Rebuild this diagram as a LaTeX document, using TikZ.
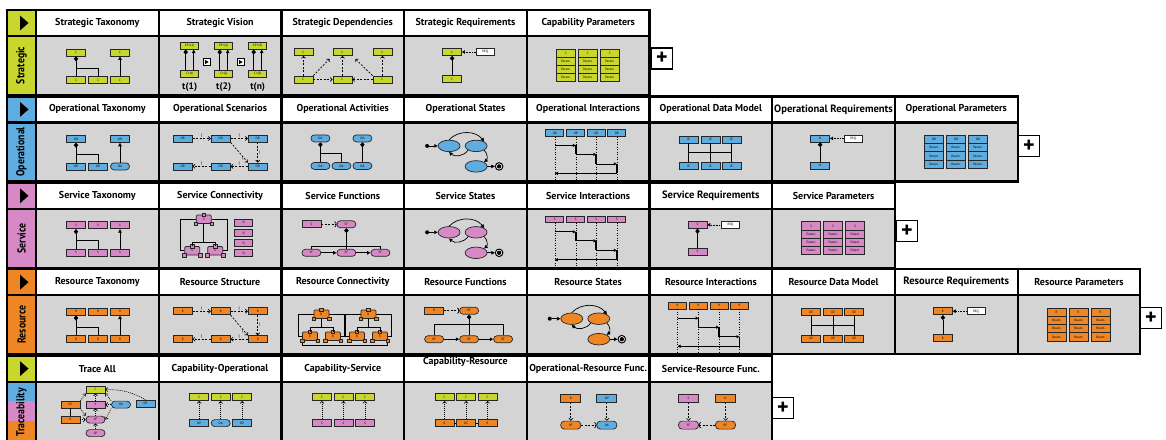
\documentclass[tikz,border=0pt]{standalone}
\usepackage{fontspec}
\setmainfont{PT Sans}
\newfontfamily\sidefamily[FakeStretch=0.85]{PT Sans}
\usetikzlibrary{arrows.meta,shapes.geometric,positioning}

\definecolor{stratcol}{RGB}{200,214,46}
\definecolor{opcol}{RGB}{94,172,224}
\definecolor{svccol}{RGB}{214,137,196}
\definecolor{rescol}{RGB}{239,134,38}
\definecolor{cellgray}{RGB}{212,212,212}

\newcommand{\hdrfont}{\bfseries\fontsize{10}{12}\selectfont}
\newcommand{\sidefont}{\sidefamily\bfseries\fontsize{11.5}{12}\selectfont}
\newcommand{\reqfont}{\fontsize{10.6}{12}\selectfont}
\newcommand{\tinyfont}{\fontsize{3.2}{3.6}\selectfont}

\tikzset{
  hdr/.style={draw, line width=2.2pt, fill=white, minimum width=122.7pt,
    minimum height=26pt, inner sep=0pt, font=\hdrfont},
  body/.style={draw, line width=2.2pt, fill=cellgray, minimum width=122.7pt,
    minimum height=59pt, inner sep=0pt},
  tab/.style={draw, line width=2.2pt, fill=#1, minimum width=29pt,
    minimum height=26pt, inner sep=0pt},
  side/.style={draw, line width=2.2pt, fill=#1, minimum width=29pt,
    minimum height=59pt, inner sep=0pt},
  el/.style={draw=black!85, line width=0.7pt, fill=#1, minimum width=19pt,
    minimum height=7pt, inner sep=0pt, font=\tinyfont},
  pill/.style={el=#1, rounded corners=3.5pt},
  stt/.style={ellipse, draw=black!85, line width=0.7pt, fill=#1,
    minimum width=22pt, minimum height=11.5pt, inner sep=0pt},
  port/.style={draw=black!85, line width=0.5pt, fill=#1, minimum size=3.5pt, inner sep=0pt},
  initdot/.style={circle, fill, minimum size=4pt, inner sep=0pt},
  final/.style={circle, draw, line width=1pt, fill=white, minimum size=7.5pt,
    inner sep=0pt, path picture={\fill[black] (path picture bounding box.center) circle (2.2pt);}},
  play/.style={draw, line width=0.6pt, fill=white, minimum size=7pt, inner sep=0pt,
    path picture={\fill[black] ([shift={(-1.5pt,-2pt)}]path picture bounding box.center)
      -- ++(0,4pt) -- ++(3.5pt,-2pt) -- cycle;}},
  plusbox/.style={draw, line width=1.8pt, fill=white, minimum size=21pt, inner sep=0pt,
    font=\bfseries\fontsize{22}{22}\selectfont},
  comp/.style={line width=0.7pt, -{Diamond[length=5pt,width=4.5pt]}},
  gen/.style={line width=0.7pt, -{Triangle[length=3.5pt,width=3.5pt]}},
  dep/.style={line width=0.7pt, dash pattern=on 2pt off 1.5pt,
    -{Straight Barb[length=2pt,width=4pt]}},
  trc/.style={line width=0.6pt, dash pattern=on 1pt off 1pt,
    -{Straight Barb[length=2pt,width=4pt]}},
  msg/.style={line width=0.8pt, -{Triangle[length=3pt,width=3pt]}},
  act/.style={line width=1.8pt},
  bang/.style={font=\fontsize{5}{5}\selectfont, inner sep=0.6pt},
}

% one row of views: index, colour, label, titles, extra side options
\newcommand{\viewrow}[5]{%
  \pgfmathsetmacro{\rowtop}{10+86.4*#1}
  \node[tab=#2] (tab#1) at (21.5,\rowtop+13) {};
  \fill ([shift={(-1.5pt,7.5pt)}]tab#1.center) -- ++(0,-15pt) -- ++(8.5pt,7.5pt) -- cycle;
  \node[side=#2, #5] (side#1) at (21.5,\rowtop+55.5) {};
  \node[rotate=90, font=\sidefont] (lbl#1) at (side#1) {#3};
  \foreach \ttl [count=\cc from 0] in {#4} {
    \node[hdr] (hd#1-\cc) at ({97.35+122.7*\cc},\rowtop+13) {\ttl};
    \node[body] (bd#1-\cc) at ({97.35+122.7*\cc},\rowtop+55.5) {};
  }
}

% taxonomy
\newcommand{\taxicon}[8]{%
  \begin{scope}[shift={({36+122.7*#3},{36+86.4*#2})}]
    \foreach \i in {#6} \node[el=#4] (#1t\i) at ({18+22*\i},16.5) {#5};
    \node[el=#4] (#1b1) at (40,44) {#5};
    \node[el=#4] (#1b2) at (62,44) {#5};
    \node[el=#4, rounded corners=#7] (#1b3) at (84,44) {#8};
    \draw[comp] (#1b1) -- (#1t1);
    \draw[line width=0.7pt] (#1b2.north) |- (#1t1.south |- 0,32);
    \draw[gen] (#1b3) -- (#1t3);
  \end{scope}}

% vision
\newcommand{\visionicon}[3]{%
  \begin{scope}[shift={({36+122.7*#3},{36+86.4*#2})}]
    \foreach \i/\t [count=\k from 0] in {1/1,2/2,3/n} {
      \node[el=stratcol, minimum width=18pt, minimum height=6.5pt] (#1e\i) at ({31+34*\k},10) {EP t(\i)};
      \node[el=stratcol, minimum width=18pt, minimum height=6.5pt] (#1c\i) at ({31+34*\k},38) {C t(\i)};
      \node[font=\bfseries\fontsize{9.5}{10}\selectfont] (#1l\i) at ({31+34*\k},51) {t(\t)};
      \draw[comp] ([xshift=-4pt]#1c\i.north) -- ([xshift=-4pt]#1e\i.south);
      \draw[gen] ([xshift=4pt]#1c\i.north) -- ([xshift=4pt]#1e\i.south);
    }
    \foreach \k in {1,2} \node[play] (#1p\k) at ({14+34*\k},26) {};
  \end{scope}}

% dependencies
\newcommand{\depicon}[3]{%
  \begin{scope}[shift={({36+122.7*#3},{36+86.4*#2})}]
    \foreach \i/\x in {1/22,2/61,3/101} {
      \node[el=stratcol] (#1t\i) at (\x,16) {C};
      \node[el=stratcol] (#1b\i) at (\x,43.5) {C};
      \draw[dep] (#1b\i) -- (#1t\i);
    }
    \draw[dep] (#1b1) -- (#1b2);
    \draw[dep] (#1b3) -- (#1b2);
    \draw[dep] (#1b1.north east) -- ([shift={(-3pt,-3pt)}]#1t2.south west);
    \draw[dep] (#1b3.north west) -- ([shift={(3pt,-3pt)}]#1t2.south east);
  \end{scope}}

% requirements
\newcommand{\reqicon}[5]{%
  \begin{scope}[shift={({36+122.7*#3},{36+86.4*#2})}]
    \node[el=#4] (#1t) at (48,16) {#5};
    \node[el=white, minimum width=18pt] (#1q) at (81,16) {REQ};
    \node[el=#4] (#1b) at (48,43) {#5};
    \draw[line width=0.6pt, densely dotted, -{Triangle[length=3pt,width=3.5pt]}] (#1q) -- (#1t);
    \draw[comp] (#1b) -- (#1t);
  \end{scope}}

% parameters
\newcommand{\paramicon}[5]{%
  \begin{scope}[shift={({36+122.7*#3},{36+86.4*#2})}]
    \foreach \i in {0,1,2} {
      \node[el=#4, minimum height=8.2pt] (#1h\i) at ({39+22*\i},17.1) {#5};
      \foreach \k in {1,2,3}
        \node[el=#4, minimum height=8.2pt] (#1p\i-\k) at ({39+22*\i},{17.1+8.2*\k}) {Param.};
    }
  \end{scope}}

% scenarios / structure
\newcommand{\scenicon}[5]{%
  \begin{scope}[shift={({36+122.7*#3},{36+86.4*#2})}]
    \foreach \i/\x in {1/24,2/62,3/99} {
      \node[el=#4] (#1t\i) at (\x,16) {#5};
      \node[el=#4] (#1b\i) at (\x,44) {#5};
    }
    \draw[dep] (#1t1) -- node[bang, above] {!} (#1t2);
    \draw[dep] (#1t2) -- node[bang, above] {!} (#1t3);
    \draw[dep] (#1t3) -- node[bang, right] {!} (#1b3);
    \draw[dep] (#1t2.south east) -- node[bang, pos=0.8, left] {!} (#1b3.north west);
    \draw[dep] (#1b3) -- node[bang, above] {!} (#1b2);
    \draw[dep] (#1b2) -- node[bang, above] {!} (#1b1);
  \end{scope}}

% activities
\newcommand{\acticon}[3]{%
  \begin{scope}[shift={({36+122.7*#3},{36+86.4*#2})}]
    \node[pill=opcol] (#1t1) at (39,16) {OA};
    \node[pill=opcol] (#1t3) at (81,16) {OA};
    \foreach \i/\x in {1/39,2/60,3/81} \node[pill=opcol] (#1b\i) at (\x,43.5) {OA};
    \draw[comp] (#1b1) -- (#1t1);
    \draw[line width=0.7pt] (#1b2.north) |- (#1t1.south |- 0,31);
    \draw[comp] (#1b3) -- (#1t3);
  \end{scope}}

% states
\newcommand{\stateicon}[4]{%
  \begin{scope}[shift={({36+122.7*#3},{36+86.4*#2})}]
    \node[initdot] (#1i) at (23,23.5) {};
    \node[stt=#4] (#1s1) at (45,23.5) {};
    \node[stt=#4] (#1s2) at (72,23.5) {};
    \node[stt=#4] (#1s3) at (72,44) {};
    \node[final] (#1f) at (95,44) {};
    \draw[gen] (#1i) -- (#1s1);
    \draw[gen] (#1s1.north) to[bend left=50] (#1s2.north east);
    \draw[gen] (#1s2.south west) to[bend left=50] (#1s1.south);
    \draw[gen] (#1s2.south east) to[bend left=50] (#1s3.north east);
    \draw[gen] (#1s3) -- (#1f);
  \end{scope}}

% interactions
\newcommand{\intericon}[5]{%
  \begin{scope}[shift={({36+122.7*#3},{36+86.4*#2})}]
    \foreach \i/\x in {1/28,2/49,3/69.5,4/90} {
      \node[el=#4, minimum width=18pt, minimum height=6.5pt] (#1o\i) at (\x,10.5) {#5};
      \coordinate (#1e\i) at (\x,57);
      \draw[line width=0.5pt, dotted] (#1o\i) -- (#1e\i);
    }
    \draw[msg] (#1o1 |- 0,23) -- (#1o2 |- 0,23);
    \draw[act] (#1o2 |- 0,23) -- (#1o2 |- 0,32);
    \draw[msg] (#1o2 |- 0,32) -- (#1o3 |- 0,32);
    \draw[act] (#1o3 |- 0,32) -- (#1o3 |- 0,41.5);
    \draw[msg] (#1o3 |- 0,41.5) -- (#1o4 |- 0,41.5);
    \draw[act] (#1o4 |- 0,41.5) -- (#1o4 |- 0,51);
    \draw[msg] (#1o4 |- 0,51) -- (#1o1 |- 0,51);
  \end{scope}}

% data model
\newcommand{\dataicon}[6]{%
  \begin{scope}[shift={({36+122.7*#3},{36+86.4*#2})}]
    \foreach \i/\x in {1/39,2/61,3/82} {
      \node[el=#4] (#1t\i) at (\x,17) {#5};
      \node[el=#4] (#1b\i) at (\x,43.5) {#5};
      \draw[line width=0.7pt] (#1t\i) -- (#1b\i);
    }
    \draw[line width=0.7pt] (#1t1 |- 0,#6) -- (#1t3 |- 0,#6);
  \end{scope}}

% functions
\newcommand{\funcicon}[7]{%
  \begin{scope}[shift={({36+122.7*#3},{36+86.4*#2})}]
    \node[el=#4] (#1a) at (30,15.5) {#5};
    \node[pill=#4] (#1f0) at (65,15.5) {#6};
    \foreach \i/\x in {1/30,2/65,3/99} \node[pill=#4] (#1f\i) at (\x,44) {#6};
    \draw[line width=0.7pt, dash pattern=on 2pt off 1.5pt, -{Arc Barb[length=2pt,width=6pt]}] (#1a) -- (#1f0);
    \draw[comp] (#1f2) -- (#1f0);
    \draw[line width=0.7pt] (#1f1.north) |- (#1f3.north |- 0,#7) -- (#1f3.north);
    \draw[gen] (#1f1) -- (#1f2);
    \draw[gen] (#1f2) -- (#1f3);
  \end{scope}}

% component with ports
\newcommand{\compnode}[5]{%
  \node[el=#4, minimum width=15pt, minimum height=8.5pt, rounded corners=1pt] (#1) at (#2,#3) {#5};
  \node[port=#4] (#1p1) at (#1.south west) {};
  \node[port=#4] (#1p2) at (#1.south east) {};
  \node[port=#4] (#1p3) at (#1.north) {};
}

% connectivity cluster
\newcommand{\connset}[6]{%
  \compnode{#1k0}{#2}{#3}{#5}{#6}
  \compnode{#1k1}{#2-11.5}{#4}{#5}{#6}
  \compnode{#1k2}{#2+11.5}{#4}{#5}{#6}
  \draw[line width=0.7pt] (#1k0.west) -| ([xshift=-4pt]#1k1.west) -- (#1k1.west);
  \draw[line width=0.7pt] (#1k0.east) -| ([xshift=4pt]#1k2.east) -- (#1k2.east);
  \draw[line width=0.7pt] (#1k0.south) -- ([yshift=4pt]#1k0.south |- #1k1.north);
  \draw[line width=0.7pt] (#1k1.north) -- ([yshift=4pt]#1k1.north) -| (#1k2.north);
}

% capability traces
\newcommand{\captrace}[4]{%
  \begin{scope}[shift={({36+122.7*#3},{36+86.4*#2})}]
    \foreach \i/\x in {1/40.5,2/62,3/83.5} \node[el=stratcol] (#1t\i) at (\x,15.5) {C};
    \foreach \i/\col/\rc/\lb in {#4} {
      \node[el=\col, rounded corners=\rc] (#1b\i) at ({19+21.5*\i},41.5) {\lb};
      \draw[trc] (#1b\i) -- (#1t\i);
    }
  \end{scope}}

\begin{document}
\begin{tikzpicture}[x=1pt, y=-1pt]
\useasboundingbox (0,0) rectangle (1166,439);
\clip (0,0) rectangle (1166,439);
\fill[white] (0,0) rectangle (1166,439);

\viewrow{0}{stratcol}{Strategic}{Strategic Taxonomy, Strategic Vision, Strategic Dependencies,
  Strategic Requirements, Capability Parameters}{}
\viewrow{1}{opcol}{Operational}{Operational Taxonomy, Operational Scenarios, Operational Activities,
  Operational States, Operational Interactions, Operational Data Model,
  {\reqfont Operational Requirements}, Operational Parameters}{}
\viewrow{2}{svccol}{Service}{Service Taxonomy, Service Connectivity, Service Functions,
  Service States, Service Interactions, {\reqfont Service Requirements}, Service Parameters}{}
\viewrow{3}{rescol}{Resource}{Resource Taxonomy, Resource Structure, Resource Connectivity,
  Resource Functions, Resource States, Resource Interactions, Resource Data Model,
  {\reqfont Resource Requirements}, Resource Parameters}{}
\viewrow{4}{stratcol}{}{Trace All, Capability-Operational, Capability-Service,
  {\raisebox{4.5pt}[0pt][0pt]{Capability-Resource}}, Operational-Resource Func.,
  Service-Resource Func.}{fill=opcol, path picture={
    \fill[svccol] ([yshift=-19pt]path picture bounding box.north west) rectangle ([yshift=-39pt]path picture bounding box.north east);
    \fill[rescol] ([yshift=-39pt]path picture bounding box.north west) rectangle (path picture bounding box.south east);}}
\node[rotate=90, font=\sidefont] (lbl4t) at ([yshift=-1pt]side4) {Traceability};

% strategic
\taxicon{stx}{0}{0}{stratcol}{C}{1,3}{0pt}{C}
\visionicon{svi}{0}{1}
\depicon{sdp}{0}{2}
\reqicon{srq}{0}{3}{stratcol}{C}
\paramicon{cpa}{0}{4}{stratcol}{C}

% operational
\taxicon{otx}{1}{0}{opcol}{OR}{1,3}{3.5pt}{OA}
\scenicon{osc}{1}{1}{opcol}{OR}
\acticon{oac}{1}{2}
\stateicon{ost}{1}{3}{opcol}
\intericon{oin}{1}{4}{opcol}{OR}
\dataicon{odm}{1}{5}{opcol}{IE}{30}
\reqicon{orq}{1}{6}{opcol}{O}
\paramicon{opa}{1}{7}{opcol}{OR}

% service
\taxicon{vtx}{2}{0}{svccol}{S}{1,2,3}{0pt}{S}
\begin{scope}[shift={({36+122.7},{36+86.4*2})}]
  \connset{vcn}{45}{10.5}{42}{svccol}{S}
  \foreach \i/\y in {1/14,2/24.5,3/34.5,4/44.5}
    \node[el=svccol, minimum width=18pt] (vcns\i) at (85,\y) {SI};
\end{scope}
\funcicon{vfn}{2}{2}{svccol}{S}{SF}{38}
\stateicon{vst}{2}{3}{svccol}
\intericon{vin}{2}{4}{svccol}{S}
\reqicon{vrq}{2}{5}{svccol}{S}
\paramicon{vpa}{2}{6}{svccol}{S}

% resource
\taxicon{rtx}{3}{0}{rescol}{R}{1,2,3}{0pt}{R}
\scenicon{rst}{3}{1}{rescol}{R}
\begin{scope}[shift={({36+122.7*2},{36+86.4*3})}]
  \connset{rcna}{40}{19}{41}{rescol}{R}
  \connset{rcnb}{87}{19}{41}{rescol}{R}
  \draw[line width=0.7pt] (rcnak1p1) |- (rcnbk2p2.south |- 0,50) -- (rcnbk2p2);
\end{scope}
\funcicon{rfn}{3}{3}{rescol}{R}{RF}{29}
\stateicon{rsa}{3}{4}{rescol}
\intericon{rin}{3}{5}{rescol}{R}
\dataicon{rdm}{3}{6}{rescol}{DE}{30}
\reqicon{rrq}{3}{7}{rescol}{R}
\paramicon{rpa}{3}{8}{rescol}{R}

% traceability
\begin{scope}[shift={(36,{36+86.4*4})}]
  \node[el=stratcol] (taC) at (59.5,8) {C};
  \node[el=rescol] (taOC) at (34.5,23) {OC};
  \node[el=svccol] (taS) at (59.5,23) {S};
  \node[pill=opcol] (taOA) at (85,23) {OA};
  \node[el=opcol] (taOP) at (109.5,22) {OP};
  \node[el=rescol] (taR) at (34.5,38) {R};
  \node[pill=svccol] (taSF) at (59.5,38) {SF};
  \node[pill=svccol] (taSP) at (59.5,51.5) {SP};
  \draw[trc] (taS) -- (taC);
  \draw[trc] (taOC.north east) -- (taC.south west);
  \draw[trc] (taOA.north west) -- (taC.south east);
  \draw[trc] (taOP.north) to[bend right=15] (taC.east);
  \draw[line width=0.7pt] (taOC) -- (taR);
  \draw[trc] (taR) -- (taSF);
  \draw[trc] (taOC.south east) -- (taSF.north west);
  \draw[trc] (taOA) -- (taS);
  \draw[trc] (taOA.south west) -- (taSF.east);
  \draw[trc] (taSF) -- (taS);
  \draw[trc] (taSP) -- (taSF);
\end{scope}
\captrace{cop}{4}{1}{1/opcol/0pt/OP, 2/opcol/3.5pt/OA, 3/opcol/0pt/OP}
\captrace{csv}{4}{2}{1/svccol/0pt/S, 2/svccol/0pt/S, 3/svccol/0pt/S}
\captrace{crs}{4}{3}{1/rescol/0pt/R, 2/rescol/0pt/OC, 3/rescol/0pt/R}
\draw[line width=0.7pt] (crsb1) -- (crsb2) -- (crsb3);
\begin{scope}[shift={({36+122.7*4},{36+86.4*4})}]
  \node[el=rescol, minimum width=20pt, minimum height=8pt] (orfR) at (44,16.5) {R};
  \node[el=opcol, minimum width=20pt, minimum height=8pt] (orfOP) at (80,16.5) {OP};
  \node[pill=rescol, minimum width=20pt, minimum height=8pt] (orfRF) at (44,43.5) {RF};
  \node[pill=opcol, minimum width=20pt, minimum height=8pt] (orfOA) at (80,43.5) {OA};
  \draw[dep] (orfR) -- (orfRF);
  \draw[dep] (orfOP) -- (orfOA);
  \draw[dep, -{Arc Barb[length=2pt,width=6pt]}] (orfRF) -- (orfOA);
\end{scope}
\begin{scope}[shift={({36+122.7*5},{36+86.4*4})}]
  \node[el=svccol, minimum width=20pt, minimum height=8pt] (srfS) at (39,16.5) {S};
  \node[el=rescol, minimum width=20pt, minimum height=8pt] (srfR) at (76,16.5) {R};
  \node[pill=svccol, minimum width=20pt, minimum height=8pt] (srfSF) at (39,43.5) {SF};
  \node[pill=rescol, minimum width=20pt, minimum height=8pt] (srfRF) at (76,43.5) {RF};
  \draw[dep] (srfS) -- (srfSF);
  \draw[dep] (srfR) -- (srfRF);
  \draw[dep, -{Arc Barb[length=2pt,width=6pt]}] (srfRF) -- (srfSF);
\end{scope}

% add buttons
\node[plusbox] (plus0) at (662,58.5) {+};
\node[plusbox] (plus1) at (1029,146) {+};
\node[plusbox] (plus2) at (907,231) {+};
\node[plusbox] (plus3) at (1151,318) {+};
\node[plusbox] (plus4) at (783,408) {+};
\end{tikzpicture}
\end{document}
